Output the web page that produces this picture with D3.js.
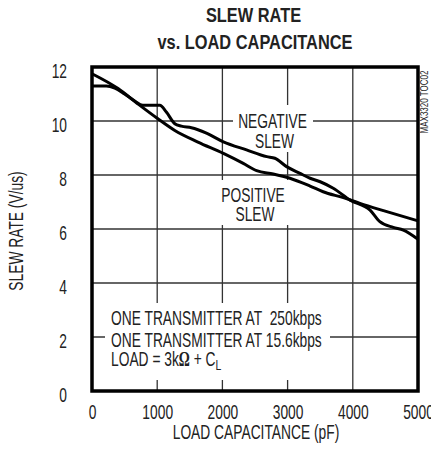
<!DOCTYPE html>
<html>
<head>
<meta charset="utf-8">
<script src="https://cdn.jsdelivr.net/npm/d3@7"></script>
<style>
  body { margin: 0; background: white; }
  text { font-family: "Liberation Sans", Arial, sans-serif; fill: #222; }
</style>
</head>
<body>
<div id="chart"></div>
<script>
// data
var xTicks = [0, 1000, 2000, 3000, 4000, 5000];
var yTicks = [0, 2, 4, 6, 8, 10, 12];

var posCap  = [0, 400, 700, 1000, 1270, 1625, 2015, 2320, 2525, 2780, 3035, 3345, 3545, 3855, 4110, 4470, 5000];
var posSlew = [11.75, 11.2, 10.64, 10.1, 9.65, 9.22, 8.8, 8.43, 8.16, 8.04, 7.88, 7.59, 7.38, 7.16, 6.95, 6.68, 6.3];

var negCap  = [0, 220, 350, 500, 650, 780, 1040, 1140, 1270, 1370, 1525, 1755, 2015, 2370, 2680, 2805, 2985, 3190, 3345, 3500, 3700, 3960, 4265, 4415, 4620, 4775, 5000];
var negSlew = [11.3, 11.3, 11.22, 11.0, 10.75, 10.58, 10.58, 10.33, 9.9, 9.81, 9.75, 9.55, 9.23, 8.93, 8.68, 8.62, 8.31, 8.06, 7.88, 7.75, 7.51, 7.07, 6.7, 6.27, 6.06, 5.96, 5.62];

var legendLines = ["ONE TRANSMITTER AT  250kbps", "ONE TRANSMITTER AT 15.6kbps"];

var W = 431, H = 453;
var mLeft = 92, mRight = 418, mTop = 67, mBottom = 391;
var SX = 0.69;  // squeeze to mimic the condensed font

var svg = d3.select("#chart").append("svg")
   .attr("width", W)
   .attr("height", H);

var x = d3.scaleLinear().domain([0, 5000]).range([mLeft, mRight]);
var y = d3.scaleLinear().domain([0, 12]).range([mBottom, mTop]);

// helper for squeezed text
function label(px, py, s, size, anchor, rot) {
   return svg.append("text")
      .attr("transform", "translate(" + px + "," + py + ")" + (rot ? " rotate(" + rot + ")" : "") + " scale(" + SX + ",1)")
      .attr("text-anchor", anchor || "start")
      .style("font-size", size + "px")
      .style("white-space", "pre")
      .text(s);
}

// grid
svg.append("g")
   .selectAll("line")
   .data(xTicks.slice(1, -1))
   .enter().append("line")
   .attr("x1", d => x(d)).attr("x2", d => x(d))
   .attr("y1", mTop).attr("y2", mBottom)
   .attr("stroke", "#333").attr("stroke-width", 1.3);
svg.append("g")
   .selectAll("line")
   .data(yTicks.slice(1, -1))
   .enter().append("line")
   .attr("x1", mLeft).attr("x2", mRight)
   .attr("y1", d => y(d)).attr("y2", d => y(d))
   .attr("stroke", "#333").attr("stroke-width", 1.3);

// white boxes behind the labels
[[233, 105, 80, 47], [218, 180, 72, 45], [105, 303, 225, 77]].forEach(function (r) {
   svg.append("rect").attr("x", r[0]).attr("y", r[1]).attr("width", r[2]).attr("height", r[3]).attr("fill", "white");
});

// curves
var line = d3.line()
   .x(d => x(d[0]))
   .y(d => y(d[1]))
   .curve(d3.curveMonotoneX);

svg.append("path")
   .datum(posCap.map((c, i) => [c, posSlew[i]]))
   .attr("d", line)
   .attr("fill", "none").attr("stroke", "black").attr("stroke-width", 3);
svg.append("path")
   .datum(negCap.map((c, i) => [c, negSlew[i]]))
   .attr("d", line)
   .attr("fill", "none").attr("stroke", "black").attr("stroke-width", 3);

// frame
svg.append("rect")
   .attr("x", mLeft).attr("y", mTop)
   .attr("width", mRight - mLeft).attr("height", mBottom - mTop)
   .attr("fill", "none").attr("stroke", "black").attr("stroke-width", 3.5);

// axes (labels only)
var xAxis = svg.append("g")
   .attr("transform", "translate(0," + mBottom + ")")
   .call(d3.axisBottom(x).tickValues(xTicks).tickSize(0).tickFormat(d3.format("d")));
xAxis.select(".domain").remove();
xAxis.selectAll("text")
   .attr("y", 28).attr("dy", 0)
   .attr("transform", "scale(" + SX + ",1)")
   .style("font-size", "20px")
   .attr("fill", "#222");

var yAxis = svg.append("g")
   .attr("transform", "translate(" + mLeft + ",0)")
   .call(d3.axisLeft(y).tickValues(yTicks).tickSize(0));
yAxis.select(".domain").remove();
yAxis.selectAll("text")
   .attr("x", -25 / SX).attr("dy", 10.5)
   .attr("transform", "scale(" + SX + ",1)")
   .style("font-size", "20px")
   .attr("fill", "#222");

// titles
svg.append("text")
   .attr("transform", "translate(253.5,22) scale(0.78,1)")
   .attr("text-anchor", "middle")
   .style("font-size", "21px").style("font-weight", "bold").attr("fill", "black")
   .text("SLEW RATE");
svg.append("text")
   .attr("transform", "translate(255,49) scale(0.78,1)")
   .attr("text-anchor", "middle")
   .style("font-size", "21px").style("font-weight", "bold").attr("fill", "black")
   .text("vs. LOAD CAPACITANCE");

label(256, 439, "LOAD CAPACITANCE (pF)", 20, "middle");
label(23, 231, "SLEW RATE (V/us)", 20, "middle", -90);

// curve labels
label(272.5, 128, "NEGATIVE", 20, "middle");
label(274.5, 148, "SLEW", 20, "middle");
label(253, 202, "POSITIVE", 20, "middle");
label(255, 221, "SLEW", 20, "middle");

// conditions
legendLines.forEach(function (s, i) {
   label(111, 325 + i * 21.5, s, 20, "start");
});
var cond = label(111, 366, "LOAD = 3k", 20, "start");
cond.append("tspan").style("font-family", "'Liberation Serif', serif").style("font-weight", "bold").text("\u03A9");
cond.append("tspan").text(" + C");
cond.append("tspan").attr("dy", 4).style("font-size", "15px").text("L");

// part number
svg.append("text")
   .attr("transform", "translate(428,102) rotate(-90) scale(0.8,1)")
   .attr("text-anchor", "middle")
   .style("font-size", "10px").attr("fill", "#555")
   .text("MAX3320 TOC02");
</script>
</body>
</html>
